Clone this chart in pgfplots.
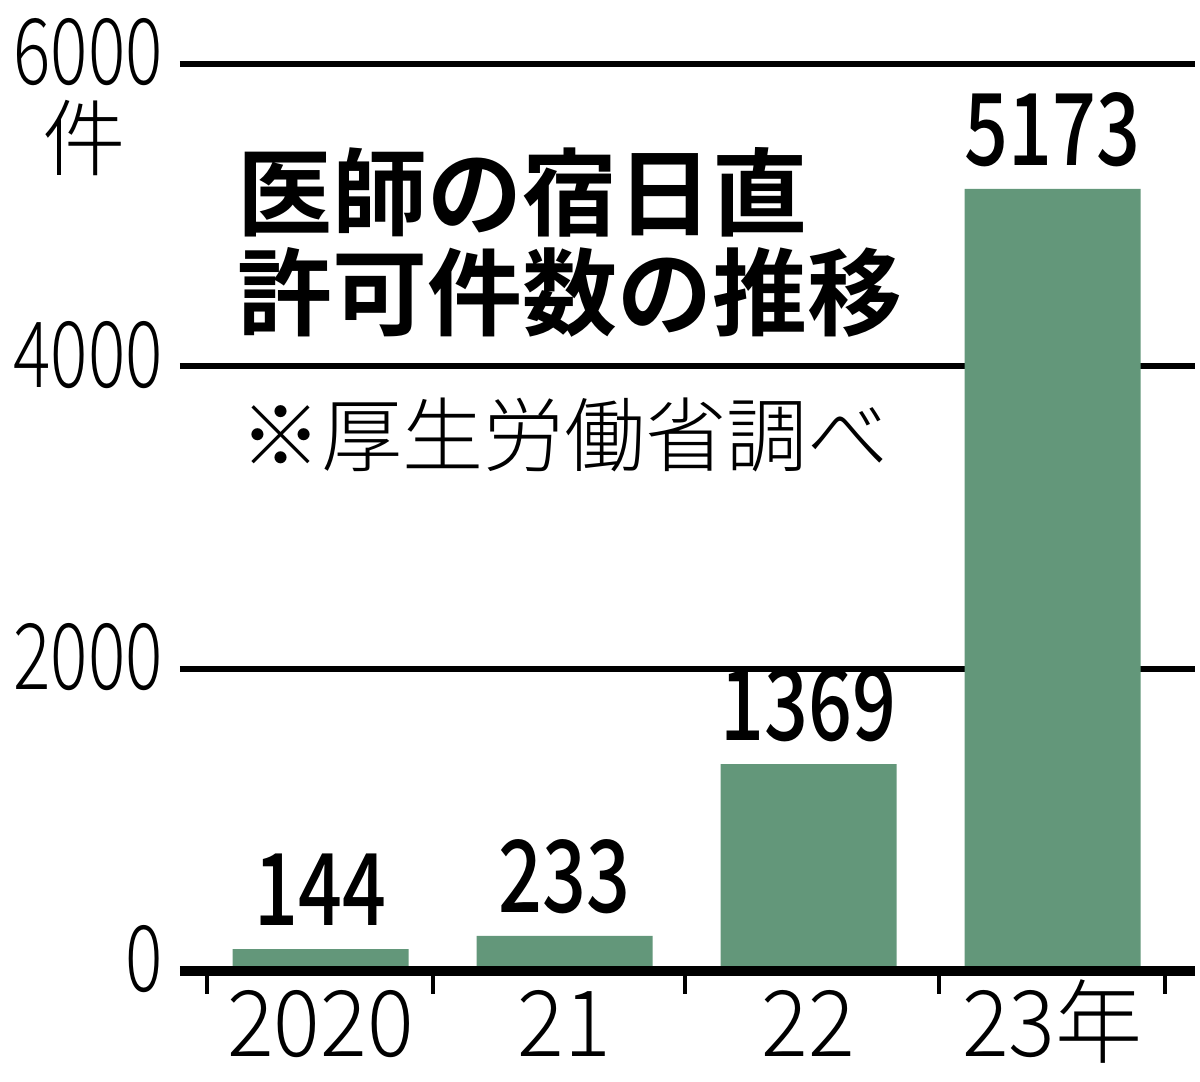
\documentclass[border=0pt]{standalone}
\usepackage{fontspec}
\setmainfont{Noto Sans CJK JP}
\newfontfamily\lightfont{Noto Sans CJK JP Light}
\newfontfamily\ylabfont[FakeStretch=0.76]{Noto Sans CJK JP Light}
\newfontfamily\xlabfont[FakeStretch=0.95]{Noto Sans CJK JP Light}
\newfontfamily\titlefont{Noto Sans CJK JP Bold}
\newfontfamily\barfont[FakeStretch=0.77]{Noto Sans CJK JP Medium}
\usepackage{pgfplots}
\pgfplotsset{compat=1.18}
\definecolor{bargreen}{RGB}{99,151,122}
\begin{document}
\begin{tikzpicture}
\useasboundingbox (-108pt,-66.6pt) rectangle (612pt,582.6pt);
\begin{axis}[
  at={(0pt,0pt)}, anchor=south west,
  scale only axis, width=609pt, height=544.2pt,
  xmin=-0.576, xmax=3.584, ymin=0, ymax=6000,
  clip=false,
  axis line style={draw=none},
  ybar, bar width=0.7213,
  xtick={0,1,2,3}, xticklabels={2020,21,22,23年},
  minor xtick={-0.465,0.461,1.494,2.535,3.461},
  ytick={0,2000,4000,6000}, yticklabels={0,2000,4000,6000},
  xtick pos=left, ytick pos=left,
  major tick length=0pt,
  minor tick length=13.8pt,
  tick align=outside,
  minor tick style={line width=2.6pt, black},
  ytick style={draw=none},
  ymajorgrids, grid style={line width=3.6pt, black},
  /pgf/number format/assume math mode=true,
  yticklabel style={anchor=base east, inner sep=0pt, xshift=-10.2pt, yshift=-12.6pt,
    font=\ylabfont\fontsize{55pt}{55pt}\selectfont},
  xticklabel style={anchor=base, inner sep=0pt, yshift=-51.6pt,
    font=\xlabfont\fontsize{55pt}{55pt}\selectfont},
  point meta=explicit symbolic,
  nodes near coords,
  nodes near coords style={anchor=base, inner sep=0pt, yshift=14pt, text=black,
    font=\barfont\fontsize{60pt}{60pt}\selectfont},
]
\addplot[fill=bargreen, draw=none] coordinates {(0,144) [144] (1,233) [233] (2,1369) [1369] (3,5173) [5173]};
\draw[line width=6.4pt, black] (axis cs:-0.576,0) -- (axis cs:3.584,0);
\end{axis}
\node[inner sep=0pt, font=\lightfont\fontsize{50pt}{50pt}\selectfont] at (-57.6pt,499.8pt) {件};
\node[anchor=west, inner sep=0pt, font=\titlefont\fontsize{57pt}{57pt}\selectfont] at (34.2pt,467.4pt) {医師の宿日直};
\node[anchor=west, inner sep=0pt, font=\titlefont\fontsize{57pt}{57pt}\selectfont] at (34.2pt,407.4pt) {許可件数の推移};
\node[anchor=west, inner sep=0pt, font=\lightfont\fontsize{48.6pt}{48.6pt}\selectfont] at (36pt,321.6pt) {※厚生労働省調べ};
\end{tikzpicture}
\end{document}
